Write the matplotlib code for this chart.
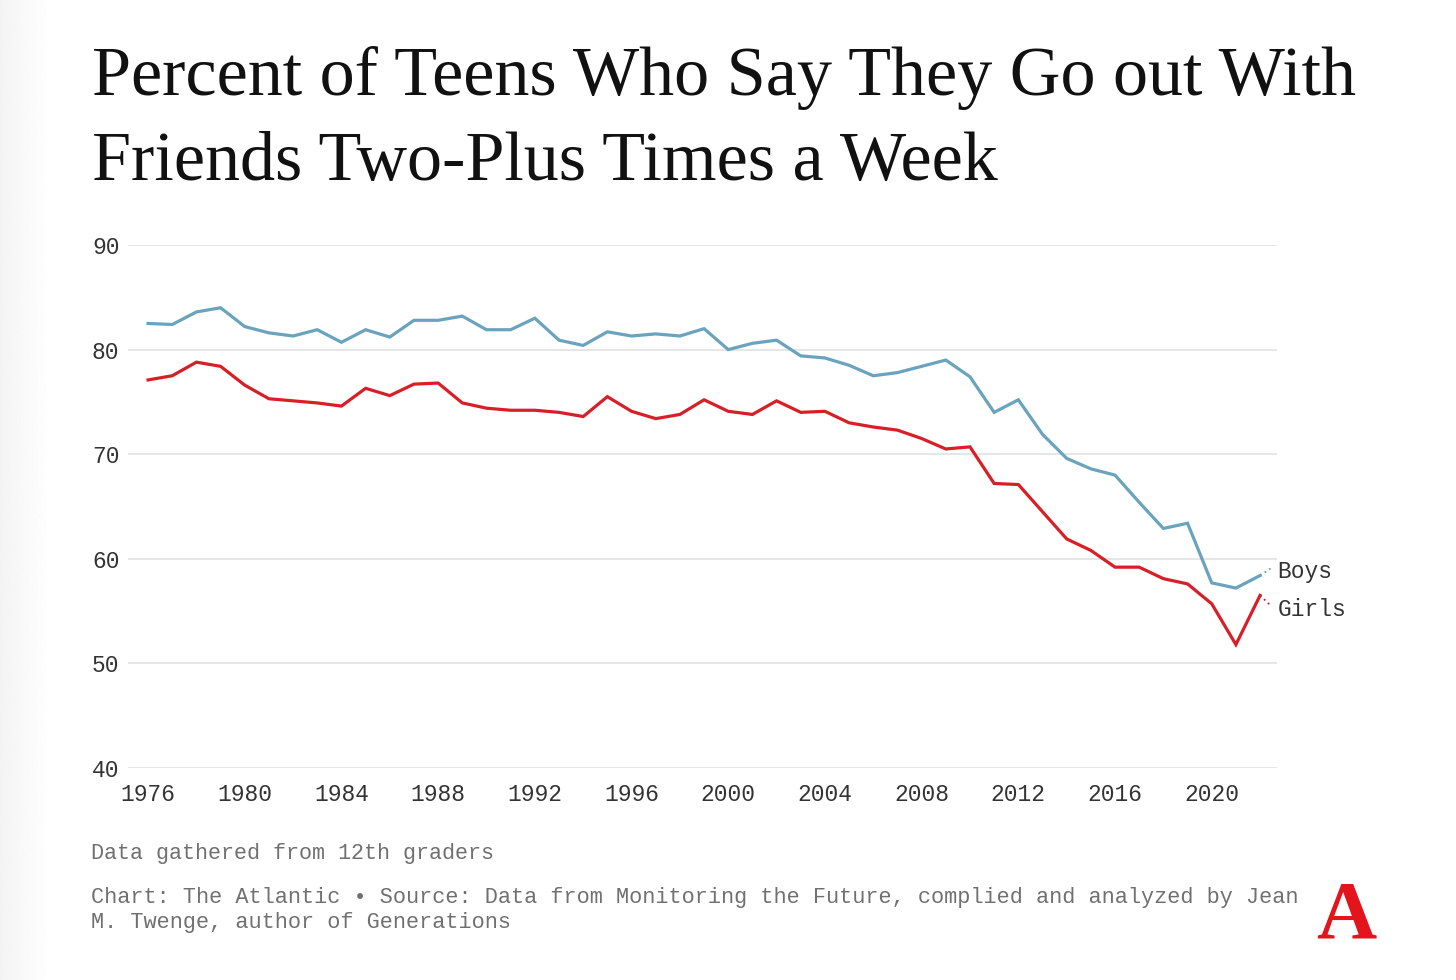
import matplotlib.pyplot as plt
import numpy as np

years = np.arange(1976, 2023)
boys = [82.5, 82.4, 83.6, 84.0, 82.2, 81.6, 81.3, 81.9, 80.7, 81.9,
        81.2, 82.8, 82.8, 83.2, 81.9, 81.9, 83.0, 80.9, 80.4, 81.7,
        81.3, 81.5, 81.3, 82.0, 80.0, 80.6, 80.9, 79.4, 79.2, 78.5,
        77.5, 77.8, 78.4, 79.0, 77.4, 74.0, 75.2, 71.9, 69.6, 68.6,
        68.0, 65.4, 62.9, 63.4, 57.7, 57.2, 58.4]
girls = [77.1, 77.5, 78.8, 78.4, 76.6, 75.3, 75.1, 74.9, 74.6, 76.3,
         75.6, 76.7, 76.8, 74.9, 74.4, 74.2, 74.2, 74.0, 73.6, 75.5,
         74.1, 73.4, 73.8, 75.2, 74.1, 73.8, 75.1, 74.0, 74.1, 73.0,
         72.6, 72.3, 71.5, 70.5, 70.7, 67.2, 67.1, 64.5, 61.9, 60.8,
         59.2, 59.2, 58.1, 57.6, 55.7, 51.8, 56.5]
yticks = [40, 50, 60, 70, 80, 90]
xticks = list(range(1976, 2021, 4))

blue = "#69a3bd"
red = "#d81f27"
mono = "Liberation Mono"

fig = plt.figure(figsize=(14.56, 9.8), dpi=100)

# faint gray band on the left edge
bg = fig.add_axes([0, 0, 0.035, 1])
grad = np.linspace(0.955, 1.0, 100).reshape(1, -1)
bg.imshow(grad, aspect="auto", cmap="gray", vmin=0, vmax=1, extent=[0, 1, 0, 1])
bg.axis("off")

ax = fig.add_axes([128 / 1456, 1 - 768 / 980, (1277 - 128) / 1456, (768 - 245) / 980])
ax.plot(years, boys, color=blue, lw=2.3, solid_joinstyle="miter", zorder=3)
ax.plot(years, girls, color=red, lw=2.3, solid_joinstyle="miter", zorder=3)

# dotted leaders to end labels
ax.plot([years[-1], years[-1] + 0.45], [boys[-1], boys[-1] + 0.7],
        color=blue, lw=1.3, ls=(0, (1, 2)), clip_on=False)
ax.plot([years[-1], years[-1] + 0.45], [girls[-1], girls[-1] - 1.0],
        color=red, lw=1.3, ls=(0, (1, 2)), clip_on=False)
ax.text(years[-1] + 0.72, boys[-1] + 0.35, "Boys", family=mono, fontsize=16.5,
        color="#333333", va="center", ha="left", clip_on=False)
ax.text(years[-1] + 0.72, girls[-1] - 1.35, "Girls", family=mono, fontsize=16.5,
        color="#333333", va="center", ha="left", clip_on=False)

ax.set_xlim(1975.17, 2022.7)
ax.set_ylim(40, 90)
ax.set_yticks(yticks)
ax.set_xticks(xticks)
ax.grid(axis="y", color="#e6e6e6", lw=1.4)
ax.set_axisbelow(True)
for s in ax.spines.values():
    s.set_visible(False)
ax.tick_params(axis="both", length=0, labelsize=16.5, labelcolor="#333333")
ax.tick_params(axis="y", pad=26)
ax.tick_params(axis="x", pad=11)
for lab in ax.get_yticklabels():
    lab.set_horizontalalignment("left")
    lab.set_family(mono)
for lab in ax.get_xticklabels():
    lab.set_family(mono)

fig.text(92 / 1456, 1 - 95 / 980, "Percent of Teens Who Say They Go out With",
         family="Liberation Serif", fontsize=50.5, color="#111111", va="baseline")
fig.text(92 / 1456, 1 - 180 / 980, "Friends Two-Plus Times a Week",
         family="Liberation Serif", fontsize=50.5, color="#111111", va="baseline")

fig.text(91 / 1456, 1 - 853 / 980, "Data gathered from 12th graders",
         family=mono, fontsize=15.7, color="#707070", va="center")
fig.text(91 / 1456, 1 - 897 / 980,
         "Chart: The Atlantic \u2022 Source: Data from Monitoring the Future, complied and analyzed by Jean",
         family=mono, fontsize=15.75, color="#707070", va="center")
fig.text(91 / 1456, 1 - 922 / 980, "M. Twenge, author of Generations",
         family=mono, fontsize=15.75, color="#707070", va="center")

fig.text(1346 / 1456, 1 - 937 / 980, "A", family="Liberation Serif",
         weight="bold", fontsize=60, color="#e3141c", ha="center", va="baseline")

fig.savefig("out.png", dpi=100, facecolor="white")
